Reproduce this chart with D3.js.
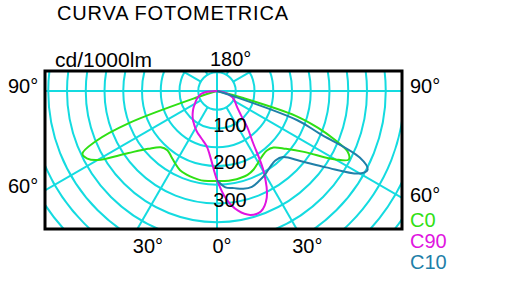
<!DOCTYPE html>
<html>
<head>
<meta charset="utf-8">
<script src="https://cdn.jsdelivr.net/npm/d3@7"></script>
<style>
  body { margin: 0; background: #fff; }
  svg text { font-family: "Liberation Sans", Arial, sans-serif; }
</style>
</head>
<body>
<svg id="svg" width="508" height="303"></svg>
<script>
// gamma angles (deg from nadir) and intensities (cd/1000lm) per half-plane
const gamma = [0, 5, 10, 15, 20, 25, 30, 35, 40, 45, 50, 55, 60, 62.5, 65, 67.5, 70, 72.5, 75, 77.5, 80, 85, 90];
const c0   = [240, 241, 241, 240, 238, 231, 220, 211, 207, 213, 240, 283, 365, 396, 385, 340, 287, 220, 70, 12, 0, 0, 0];
const c180 = [240, 241, 242, 240, 237, 233, 223, 213, 206, 212, 240, 288, 368, 390, 396, 350, 250, 55, 10, 0, 0, 0, 0];
const c90  = [237, 290, 324, 342, 342, 314, 250, 166, 125, 90, 72, 62, 55, 52, 48, 45, 40, 34, 28, 22, 15, 5, 0];
const c270 = [237, 183, 152, 139, 130, 123, 115, 107, 100, 92, 84, 76, 68, 65, 62, 59, 56, 52, 49, 46, 42, 30, 0];
const c10  = [237, 258, 263, 270, 272, 265, 257, 247, 242, 249, 290, 355, 440, 453, 420, 295, 228, 40, 0, 0, 0, 0, 0];

const rings = [50, 100, 150, 200, 250, 300, 350, 400, 450, 500, 550, 600, 650];
const ringLabels = [100, 200, 300];
const spokes = [30, 60, 120, 150];
const legend = [
  {name: "C0", color: "#2fe014"},
  {name: "C90", color: "#e014e0"},
  {name: "C10", color: "#1f7fa8"}
];

const box = {x0: 45, y0: 71, x1: 402, y1: 229};
const cx = 217, cy = 91;
const grid = "#14dbe0";

const svg = d3.select("#svg");
const r = d3.scaleLinear().domain([0, 600]).range([0, 225]);
const rad = d => d * Math.PI / 180;

svg.append("defs").append("clipPath").attr("id", "clip")
  .append("rect")
  .attr("x", box.x0).attr("y", box.y0)
  .attr("width", box.x1 - box.x0).attr("height", box.y1 - box.y0);

const plot = svg.append("g").attr("clip-path", "url(#clip)");
const g = plot.append("g").attr("transform", `translate(${cx},${cy})`);

// rings
g.selectAll("circle.ring").data(rings).enter().append("circle")
  .attr("class", "ring")
  .attr("r", d => r(d))
  .attr("fill", "none").attr("stroke", grid).attr("stroke-width", 2);

// spokes (both sides), starting at the first ring
const spokeData = [];
spokes.forEach(a => { spokeData.push(a); spokeData.push(-a); });
g.selectAll("line.spoke").data(spokeData).enter().append("line")
  .attr("class", "spoke")
  .attr("x1", d => r(50) * Math.sin(rad(d)))
  .attr("y1", d => r(50) * Math.cos(rad(d)))
  .attr("x2", d => r(700) * Math.sin(rad(d)))
  .attr("y2", d => r(700) * Math.cos(rad(d)))
  .attr("stroke", grid).attr("stroke-width", 2);

// vertical and horizontal axes through the centre
g.append("line").attr("x1", 0).attr("x2", 0).attr("y1", -r(700)).attr("y2", r(700))
  .attr("stroke", grid).attr("stroke-width", 2);
g.append("line").attr("y1", 0).attr("y2", 0).attr("x1", -r(700)).attr("x2", r(700))
  .attr("stroke", grid).attr("stroke-width", 2);

// photometric curves
const line = d3.lineRadial()
  .angle(d => d.a)
  .radius(d => r(d.v))
  .curve(d3.curveCatmullRom.alpha(0.5));

function loop(left, right) {
  const pts = [];
  for (let i = gamma.length - 1; i > 0; i--) pts.push({a: Math.PI + rad(gamma[i]), v: left[i]});
  for (let i = 0; i < gamma.length; i++) pts.push({a: Math.PI - rad(gamma[i]), v: right[i]});
  return pts;
}
function half(right) {
  return gamma.map((gm, i) => ({a: Math.PI - rad(gm), v: right[i]}));
}

g.append("path").attr("d", line(loop(c180, c0)))
  .attr("fill", "none").attr("stroke", legend[0].color).attr("stroke-width", 2);
g.append("path").attr("d", line(loop(c270, c90)))
  .attr("fill", "none").attr("stroke", legend[1].color).attr("stroke-width", 2);
g.append("path").attr("d", line(half(c10)))
  .attr("fill", "none").attr("stroke", legend[2].color).attr("stroke-width", 2);

// ring labels
g.selectAll("text.rl").data(ringLabels).enter().append("text")
  .attr("class", "rl")
  .attr("x", 13).attr("y", d => r(d) + 3)
  .attr("text-anchor", "middle")
  .attr("font-size", 20)
  .text(d => d);

// frame
svg.append("rect")
  .attr("x", box.x0).attr("y", box.y0)
  .attr("width", box.x1 - box.x0).attr("height", box.y1 - box.y0)
  .attr("fill", "none").attr("stroke", "#000").attr("stroke-width", 3);

// texts
const label = (x, y, t, size, fill) => svg.append("text")
  .attr("x", x).attr("y", y).attr("font-size", size || 20)
  .attr("fill", fill || "#000").text(t);

label(57, 20, "CURVA FOTOMETRICA", 20).attr("textLength", 231).attr("lengthAdjust", "spacing");
label(55, 67, "cd/1000lm", 21);
label(210, 66, "180°", 20);
label(8, 93, "90°", 20);
label(410, 93, "90°", 20);
label(8, 193, "60°", 20);
label(410, 202, "60°", 20);

// bottom angle labels at the spoke crossings with the frame bottom
const bottomAngles = [-30, 0, 30];
svg.selectAll("text.ba").data(bottomAngles).enter().append("text")
  .attr("class", "ba")
  .attr("x", d => cx + (box.y1 - cy) * Math.tan(rad(d)) - 4.5)
  .attr("y", 253)
  .attr("font-size", 20)
  .text(d => Math.abs(d) + "°");

svg.selectAll("text.lg").data(legend).enter().append("text")
  .attr("class", "lg")
  .attr("x", 410).attr("y", (d, i) => 227 + i * 21)
  .attr("font-size", 20)
  .attr("fill", d => d.color)
  .text(d => d.name);
</script>
</body>
</html>
